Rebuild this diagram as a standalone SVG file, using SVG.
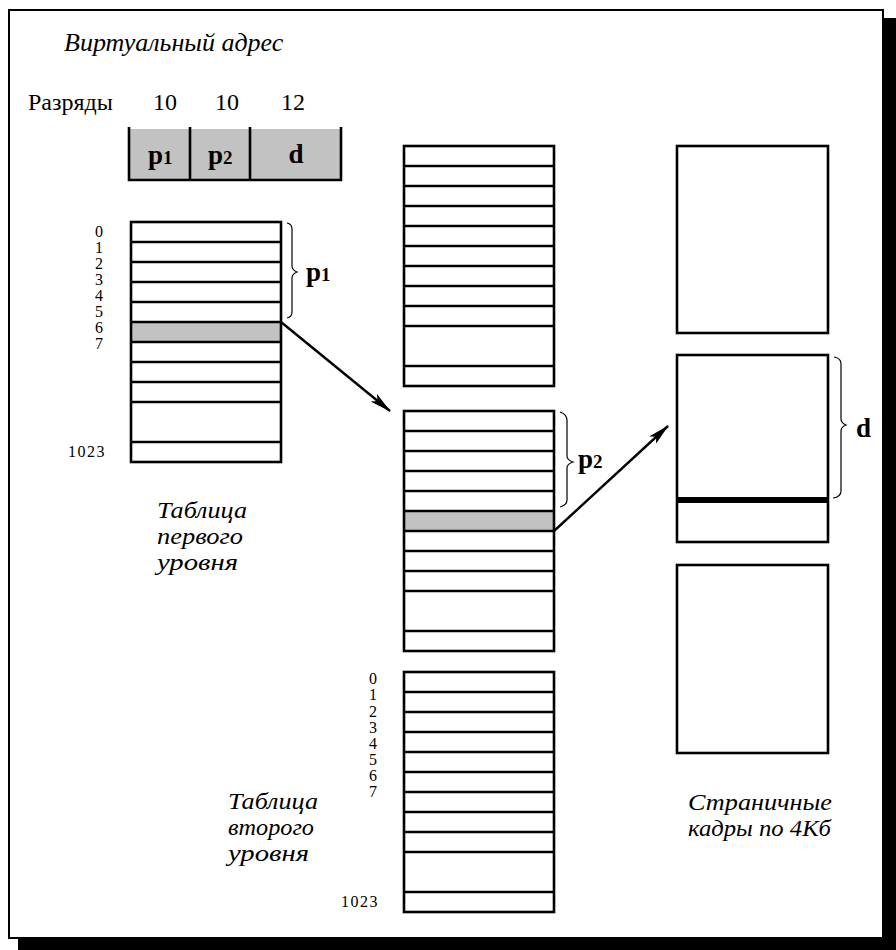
<svg xmlns="http://www.w3.org/2000/svg" width="896" height="950" viewBox="0 0 896 950">
<defs>
<style>
.frame{fill:#fff;stroke:#000;stroke-width:2}
.tbl{fill:none;stroke:#000;stroke-width:2.6}
.row{stroke:#000;stroke-width:2.4}
.shade{fill:#c2c2c2}
.lbl{font-family:"Liberation Serif","Times New Roman",serif;font-style:italic;font-size:26px;fill:#000}
.ml{font-family:"Liberation Serif","Times New Roman",serif;font-style:italic;font-size:22.5px;fill:#000}
.reg{font-family:"Liberation Serif","Times New Roman",serif;font-size:24px;fill:#000}
.num{font-family:"Liberation Serif","Times New Roman",serif;font-size:16px;fill:#000;text-anchor:middle}
.big{font-family:"Liberation Serif","Times New Roman",serif;font-size:16px;fill:#000;text-anchor:end;letter-spacing:1.5px}
.bold{font-family:"Liberation Serif","Times New Roman",serif;font-weight:bold;font-size:27px;fill:#000}
.brace{fill:none;stroke:#000;stroke-width:1.2}
.conn{fill:none;stroke:#000;stroke-width:2.4}
</style>
<marker id="arr" viewBox="0 0 22 10" refX="21" refY="5" markerWidth="22" markerHeight="10" markerUnits="userSpaceOnUse" orient="auto">
<path d="M0,0 L22,5 L0,10 L5,5 Z" fill="#000"/>
</marker>
</defs>

<g id="border">
<rect x="18" y="18" width="878" height="932" fill="#000"/>
<rect x="9" y="10" width="874" height="928" class="frame"/>
</g>

<g id="title">
<text x="64" y="51" class="lbl">Виртуальный адрес</text>
<text x="28" y="110" class="reg">Разряды</text>
<text x="165" y="110" class="reg" text-anchor="middle">10</text>
<text x="227" y="110" class="reg" text-anchor="middle">10</text>
<text x="293" y="110" class="reg" text-anchor="middle">12</text>
</g>

<g id="address">
<rect x="129" y="129" width="212" height="51" class="shade"/>
<path d="M129,127 V180 H341 V127 M190,127 V180 M250,127 V180" fill="none" stroke="#000" stroke-width="2.6"/>
<text x="148" y="164" class="bold">p<tspan font-size="19">1</tspan></text>
<text x="208" y="164" class="bold">p<tspan font-size="19">2</tspan></text>
<text x="296" y="163" class="bold" text-anchor="middle">d</text>
</g>

<g id="table1">
<rect x="131" y="322" width="150" height="20" class="shade"/>
<rect x="131" y="222" width="150" height="240" class="tbl"/>
<path class="row" d="M131,242H281M131,262H281M131,282H281M131,302H281M131,322H281M131,342H281M131,362H281M131,382H281M131,402H281M131,442H281"/>
<text class="num"><tspan x="99" y="237">0</tspan><tspan x="99" y="253">1</tspan><tspan x="99" y="269">2</tspan><tspan x="99" y="285">3</tspan><tspan x="99" y="301">4</tspan><tspan x="99" y="317">5</tspan><tspan x="99" y="333">6</tspan><tspan x="99" y="349">7</tspan></text>
<text x="106" y="457" class="big">1023</text>
<path class="brace" d="M287,223 Q292,224 292,229 V266 Q292,270 297,272 Q292,274 292,278 V312 Q292,317 287,318"/>
<text x="306" y="281" class="bold">p<tspan font-size="19">1</tspan></text>
<text class="ml"><tspan x="157" y="518" textLength="90" lengthAdjust="spacingAndGlyphs">Таблица</tspan><tspan x="157" y="544" textLength="86" lengthAdjust="spacingAndGlyphs">первого</tspan><tspan x="157" y="570" textLength="81" lengthAdjust="spacingAndGlyphs">уровня</tspan></text>
</g>

<g id="table2a">
<rect x="404" y="146" width="150" height="240" class="tbl"/>
<path class="row" d="M404,166H554M404,186H554M404,206H554M404,226H554M404,246H554M404,266H554M404,286H554M404,306H554M404,326H554M404,366H554"/>
</g>

<g id="table2b">
<rect x="404" y="511" width="150" height="20" class="shade"/>
<rect x="404" y="411" width="150" height="240" class="tbl"/>
<path class="row" d="M404,431H554M404,451H554M404,471H554M404,491H554M404,511H554M404,531H554M404,551H554M404,571H554M404,591H554M404,631H554"/>
<path class="brace" d="M560,412 Q567,414 567,421 V456 Q567,460 573,462 Q567,464 567,468 V500 Q567,505 560,507"/>
<text x="578" y="468" class="bold">p<tspan font-size="19">2</tspan></text>
</g>

<g id="table2c">
<rect x="404" y="672" width="150" height="240" class="tbl"/>
<path class="row" d="M404,692H554M404,712H554M404,732H554M404,752H554M404,772H554M404,792H554M404,812H554M404,832H554M404,852H554M404,892H554"/>
<text class="num"><tspan x="373" y="684">0</tspan><tspan x="373" y="700">1</tspan><tspan x="373" y="717">2</tspan><tspan x="373" y="733">3</tspan><tspan x="373" y="749">4</tspan><tspan x="373" y="765">5</tspan><tspan x="373" y="781">6</tspan><tspan x="373" y="797">7</tspan></text>
<text x="379" y="907" class="big">1023</text>
<text class="ml"><tspan x="228" y="809" textLength="90" lengthAdjust="spacingAndGlyphs">Таблица</tspan><tspan x="228" y="835" textLength="86" lengthAdjust="spacingAndGlyphs">второго</tspan><tspan x="228" y="861" textLength="81" lengthAdjust="spacingAndGlyphs">уровня</tspan></text>
</g>

<g id="frame1">
<rect x="677" y="146" width="151" height="187" class="tbl"/>
</g>
<g id="frame2">
<rect x="677" y="355" width="151" height="187" class="tbl"/>
<line x1="677" y1="500" x2="828" y2="500" stroke="#000" stroke-width="6"/>
<path class="brace" d="M834,357 Q841,358 841,364 V419 Q841,423 846,425 Q841,427 841,431 V491 Q841,497 833,498"/>
<text x="856" y="437" class="bold">d</text>
</g>
<g id="frame3">
<rect x="677" y="565" width="151" height="188" class="tbl"/>
<text class="ml"><tspan x="688" y="810" textLength="144" lengthAdjust="spacingAndGlyphs">Страничные</tspan><tspan x="688" y="836" textLength="143" lengthAdjust="spacingAndGlyphs">кадры по 4Кб</tspan></text>
</g>

<g id="connectors">
<line x1="281" y1="322" x2="390" y2="411" class="conn" marker-end="url(#arr)"/>
<line x1="554" y1="531" x2="668" y2="426" class="conn" marker-end="url(#arr)"/>
</g>
</svg>
